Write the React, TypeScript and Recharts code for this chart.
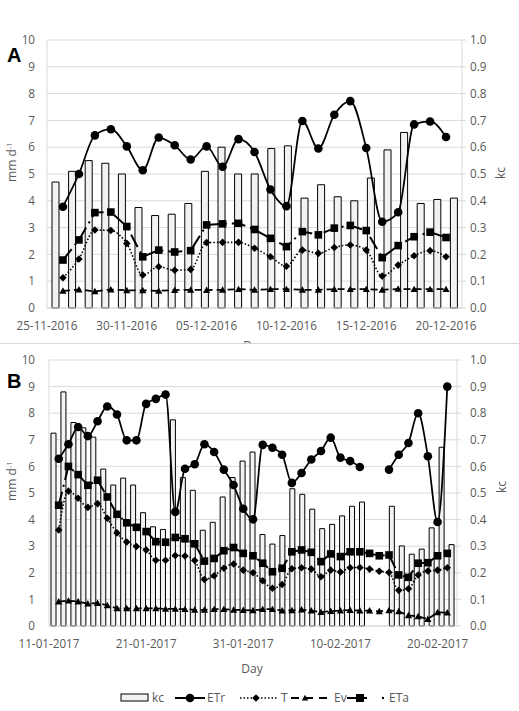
import { Bar, CartesianGrid, ComposedChart, Line, XAxis, YAxis } from 'recharts'

const FONT = '"Open Sans", "DejaVu Sans", sans-serif'
const TEXT = '#595959'
const GRID = '#d9d9d9'
const INK = '#000000'
const BAR_FILL = '#f2f2f2'

// Panel A: days after 25-11-2016 (day 1 = 26-11-2016 ... day 25 = 20-12-2016)
const tickDaysA = [0, 5, 10, 15, 20, 25]
const tickLabelsA = ['25-11-2016', '30-11-2016', '05-12-2016', '10-12-2016', '15-12-2016', '20-12-2016']
const kcA = [0.47, 0.51, 0.55, 0.54, 0.5, 0.375, 0.345, 0.35, 0.39, 0.51, 0.6, 0.5, 0.5, 0.595, 0.605, 0.41, 0.46, 0.415, 0.4, 0.485, 0.59, 0.655, 0.39, 0.405, 0.41]
const etrA = [3.78, 5.0, 6.44, 6.67, 6.03, 5.14, 6.36, 6.07, 5.54, 6.03, 5.27, 6.3, 5.82, 4.42, 3.8, 6.98, 5.95, 7.21, 7.72, 5.97, 3.22, 3.57, 6.85, 6.96, 6.38]
const tA = [1.13, 1.83, 2.91, 2.89, 2.41, 1.23, 1.54, 1.41, 1.44, 2.44, 2.45, 2.45, 2.23, 1.91, 1.56, 2.16, 2.04, 2.26, 2.35, 2.16, 1.19, 1.6, 1.95, 2.14, 1.91]
const evA = [0.64, 0.69, 0.62, 0.69, 0.66, 0.66, 0.64, 0.67, 0.68, 0.67, 0.68, 0.7, 0.68, 0.7, 0.7, 0.68, 0.68, 0.7, 0.7, 0.7, 0.68, 0.71, 0.7, 0.7, 0.7]
const etaA = [1.79, 2.54, 3.56, 3.58, 3.04, 1.91, 2.16, 2.09, 2.14, 3.1, 3.14, 3.16, 2.93, 2.6, 2.29, 2.85, 2.73, 2.98, 3.08, 2.89, 1.88, 2.33, 2.66, 2.83, 2.63]

// Panel B: days after 11-01-2017 (day 1 = 12-01-2017 ... day 41 = 21-02-2017)
const tickDaysB = [0, 10, 20, 30, 40]
const tickLabelsB = ['11-01-2017', '21-01-2017', '31-01-2017', '10-02-2017', '20-02-2017']
const kcB = [0.725, 0.88, 0.765, 0.745, 0.71, 0.59, 0.53, 0.556, 0.53, 0.426, 0.373, 0.363, 0.775, 0.558, 0.51, 0.36, 0.39, 0.485, 0.558, 0.62, 0.654, 0.344, 0.308, 0.34, 0.516, 0.495, 0.439, 0.366, 0.382, 0.414, 0.45, 0.466, null, null, 0.45, 0.301, 0.27, 0.289, 0.369, 0.672, 0.306]
const etrB = [6.29, 6.83, 7.48, 7.14, 7.7, 8.25, 7.95, 6.98, 6.98, 8.35, 8.54, 8.7, 4.29, 5.91, 6.08, 6.83, 6.54, 5.88, 5.3, 4.41, 4.01, 6.81, 6.7, 6.44, 5.38, 5.75, 6.26, 6.58, 7.08, 6.33, 6.2, 5.98, null, null, 5.88, 6.44, 6.88, 8.0, 6.38, 3.91, 9.0]
const tB = [3.61, 5.07, 4.8, 4.46, 4.6, 4.05, 3.5, 3.16, 2.99, 2.86, 2.47, 2.47, 2.65, 2.63, 2.46, 1.75, 1.89, 2.17, 2.33, 2.1, 2.0, 1.7, 1.42, 1.56, 2.15, 2.19, 2.14, 1.85, 2.1, 2.03, 2.19, 2.2, 2.14, 2.06, 2.01, 1.34, 1.4, 1.92, 2.07, 2.1, 2.19]
const evB = [0.92, 0.95, 0.92, 0.84, 0.86, 0.78, 0.66, 0.66, 0.66, 0.66, 0.66, 0.64, 0.64, 0.63, 0.61, 0.61, 0.63, 0.63, 0.61, 0.6, 0.59, 0.63, 0.63, 0.58, 0.59, 0.62, 0.58, 0.52, 0.56, 0.58, 0.6, 0.58, 0.58, 0.55, 0.59, 0.55, 0.4, 0.36, 0.26, 0.51, 0.5]
const etaB = [4.54, 6.0, 5.69, 5.29, 5.48, 4.85, 4.2, 3.88, 3.71, 3.55, 3.17, 3.15, 3.33, 3.28, 3.09, 2.44, 2.54, 2.83, 2.95, 2.73, 2.64, 2.36, 2.04, 2.17, 2.79, 2.86, 2.77, 2.42, 2.71, 2.61, 2.79, 2.79, 2.73, 2.64, 2.67, 1.92, 1.83, 2.36, 2.38, 2.64, 2.73]

const mmTicks = [0, 1, 2, 3, 4, 5, 6, 7, 8, 9, 10]
const kcTicks = [0, 0.1, 0.2, 0.3, 0.4, 0.5, 0.6, 0.7, 0.8, 0.9, 1.0]

type Row = { day: number; kc: number | null; etr: number | null; t: number; ev: number; eta: number }

function buildRows(kc: (number | null)[], etr: (number | null)[], t: number[], ev: number[], eta: number[]): Row[] {
  return kc.map((v, i) => ({ day: i + 1, kc: v, etr: etr[i], t: t[i], ev: ev[i], eta: eta[i] }))
}

const dataA = buildRows(kcA, etrA, tA, evA, etaA)
const dataB = buildRows(kcB, etrB, tB, evB, etaB)

type Shape = 'circle' | 'diamond' | 'triangle' | 'square'

function Marker({ shape, x, y, s }: { shape: Shape; x: number; y: number; s: number }) {
  if (shape === 'circle') return <circle cx={x} cy={y} r={s} fill={INK} />
  if (shape === 'diamond')
    return <polygon points={`${x},${y - s} ${x + s},${y} ${x},${y + s} ${x - s},${y}`} fill={INK} />
  if (shape === 'triangle')
    return <polygon points={`${x},${y - s} ${x + s},${y + s * 0.8} ${x - s},${y + s * 0.8}`} fill={INK} />
  return <rect x={x - s} y={y - s} width={s * 2} height={s * 2} fill={INK} />
}

// marker renderer for Line's dot prop
const dot = (shape: Shape, s: number) => (p: any) => {
  const key = `${shape}-${p.index}`
  if (p.cx == null || p.cy == null || Number.isNaN(p.cy) || p.value == null) return <g key={key} />
  return (
    <g key={key}>
      <Marker shape={shape} x={p.cx} y={p.cy} s={s} />
    </g>
  )
}

const tickStyle = { fill: TEXT, fontSize: 11.7, fontFamily: FONT }

interface PanelProps {
  data: Row[]
  maxDay: number
  ticks: number[]
  labels: string[]
  height: number
  top: number
  xH: number
  leftW: number
  rightW: number
  leftMargin: number
  rightMargin: number
  barSize: number
}

function Panel({ data, maxDay, ticks, labels, height, top, xH, leftW, rightW, leftMargin, rightMargin, barSize }: PanelProps) {
  return (
    <ComposedChart width={519} height={height} data={data} margin={{ top, right: 0, bottom: 0, left: 0 }}>
      <CartesianGrid vertical={false} stroke={GRID} xAxisId="day" yAxisId="mm" />
      {/* band axis for the kc bars only */}
      <XAxis xAxisId="cat" dataKey="day" type="category" orientation="top" height={0} hide />
      <XAxis
        xAxisId="day"
        dataKey="day"
        type="number"
        domain={[0, maxDay]}
        ticks={ticks}
        interval={0}
        allowDataOverflow
        tickFormatter={(v: number) => labels[ticks.indexOf(v)] ?? ''}
        axisLine={{ stroke: GRID }}
        tickLine={false}
        tickSize={6}
        tickMargin={8}
        tick={tickStyle}
        height={xH}
      />
      <YAxis
        yAxisId="mm"
        orientation="left"
        domain={[0, 10]}
        ticks={mmTicks}
        interval={0}
        width={leftW}
        axisLine={{ stroke: GRID }}
        tickLine={false}
        tickSize={6}
        tickMargin={leftMargin}
        tick={tickStyle}
      />
      <YAxis
        yAxisId="kc"
        orientation="right"
        domain={[0, 1]}
        ticks={kcTicks}
        interval={0}
        width={rightW}
        axisLine={{ stroke: GRID }}
        tickLine={{ stroke: GRID }}
        tickSize={4}
        tickMargin={rightMargin}
        tick={tickStyle}
        tickFormatter={(v: number) => v.toFixed(1)}
      />
      <Bar
        xAxisId="cat"
        yAxisId="kc"
        dataKey="kc"
        fill={BAR_FILL}
        stroke={INK}
        strokeWidth={1}
        barSize={barSize}
        isAnimationActive={false}
      />
      <Line
        xAxisId="day"
        yAxisId="mm"
        dataKey="ev"
        type="linear"
        stroke={INK}
        strokeWidth={1.75}
        strokeDasharray="7 4"
        dot={dot('triangle', 3.6)}
        activeDot={false}
        isAnimationActive={false}
      />
      <Line
        xAxisId="day"
        yAxisId="mm"
        dataKey="t"
        type="monotone"
        stroke={INK}
        strokeWidth={1.6}
        strokeDasharray="1.5 2"
        dot={dot('diamond', 3.8)}
        activeDot={false}
        isAnimationActive={false}
      />
      <Line
        xAxisId="day"
        yAxisId="mm"
        dataKey="eta"
        type="linear"
        stroke={INK}
        strokeWidth={2}
        strokeDasharray="14 5 2 5"
        dot={dot('square', 3.8)}
        activeDot={false}
        isAnimationActive={false}
      />
      <Line
        xAxisId="day"
        yAxisId="mm"
        dataKey="etr"
        type="monotone"
        stroke={INK}
        strokeWidth={1.75}
        dot={dot('circle', 4.3)}
        activeDot={false}
        isAnimationActive={false}
      />
    </ComposedChart>
  )
}

function Legend() {
  const y = 698
  return (
    <g fontFamily={FONT} fontSize={12} fill={TEXT}>
      <rect x={121} y={694} width={27} height={7} fill={BAR_FILL} stroke={INK} strokeWidth={1} />
      <text x={152} y={y + 4.3}>kc</text>
      <line x1={175} x2={205} y1={y} y2={y} stroke={INK} strokeWidth={2} />
      <Marker shape="circle" x={190} y={y} s={4.3} />
      <text x={207} y={y + 4.3}>ETr</text>
      <line x1={240} x2={277} y1={y} y2={y} stroke={INK} strokeWidth={1.6} strokeDasharray="1.5 2" />
      <Marker shape="diamond" x={256} y={y} s={3.8} />
      <text x={281} y={y + 4.3}>T</text>
      <line x1={291} x2={330} y1={y} y2={y} stroke={INK} strokeWidth={2} strokeDasharray="8 6" />
      <Marker shape="triangle" x={305} y={y} s={3.2} />
      <text x={334} y={y + 4.3}>Ev</text>
      <line x1={347} x2={384} y1={y} y2={y} stroke={INK} strokeWidth={2} strokeDasharray="20 15 2 20" />
      <Marker shape="square" x={360} y={y} s={4} />
      <text x={389} y={y + 4.3}>ETa</text>
    </g>
  )
}

export default function App() {
  return (
    <div style={{ position: 'absolute', left: 0, top: 0, width: 519, height: 711, background: '#fff', overflow: 'hidden' }}>
      <div style={{ position: 'absolute', left: 0, top: 0 }}>
        <Panel data={dataA} maxDay={26} ticks={tickDaysA} labels={tickLabelsA} height={360} top={40} xH={52}
          leftW={47} rightW={57} leftMargin={6} rightMargin={4} barSize={7} />
      </div>
      {/* x-axis title of panel A, mostly hidden under panel B's frame */}
      <svg width={519} height={360} style={{ position: 'absolute', left: 0, top: 0 }}>
        <text x={254} y={350} textAnchor="middle" fontFamily={FONT} fontSize={12} fill={TEXT}>Day</text>
      </svg>
      <div style={{ position: 'absolute', left: 0, top: 343, width: 519, height: 368, background: '#fff', borderTop: `1px solid ${GRID}` }}>
        <div style={{ position: 'absolute', left: 0, top: -1 }}>
          <Panel data={dataB} maxDay={42} ticks={tickDaysB} labels={tickLabelsB} height={313} top={17} xH={30}
            leftW={49} rightW={62} leftMargin={8} rightMargin={9} barSize={5} />
        </div>
      </div>
      <svg width={519} height={711} style={{ position: 'absolute', left: 0, top: 0, pointerEvents: 'none' }}>
        <text x={7} y={62} fontFamily='"Liberation Sans", Arial, sans-serif' fontWeight="bold" fontSize={20} fill={INK}>A</text>
        <text x={7} y={388} fontFamily='"Liberation Sans", Arial, sans-serif' fontWeight="bold" fontSize={20} fill={INK}>B</text>
        <g fontFamily={FONT} fontSize={12} fill={TEXT}>
          <text transform="translate(16,162) rotate(-90)" textAnchor="middle">
            mm d<tspan dy={-4} fontSize={8}>-1</tspan>
          </text>
          <text transform="translate(16,481) rotate(-90)" textAnchor="middle">
            mm d<tspan dy={-4} fontSize={8}>-1</tspan>
          </text>
          <text transform="translate(505,173) rotate(-90)" textAnchor="middle">kc</text>
          <text transform="translate(506,487) rotate(-90)" textAnchor="middle">kc</text>
          <text x={252} y={673} textAnchor="middle">Day</text>
        </g>
        <Legend />
      </svg>
    </div>
  )
}
